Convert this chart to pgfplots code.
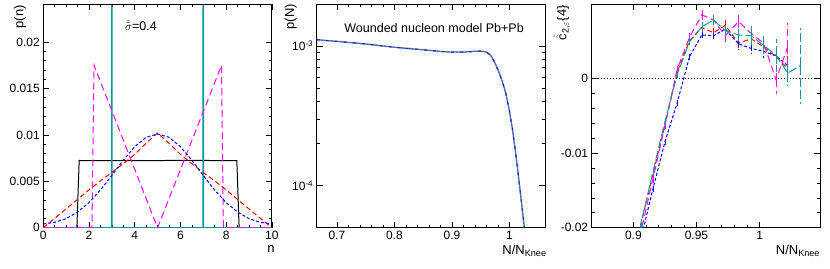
\documentclass[border=0pt]{standalone}
\usepackage{fontspec}
\setmainfont{Liberation Sans}
\usepackage{pgfplots}
\pgfplotsset{compat=1.18}
\definecolor{rred}{RGB}{255,0,0}
\definecolor{rblue}{RGB}{0,0,255}
\definecolor{rmag}{RGB}{255,0,255}
\definecolor{rteal}{RGB}{0,153,153}
\pgfplotsset{rootstyle/.style={
  scale only axis, width=228.5pt, height=223.7pt, anchor=south west,
  axis line style={line width=0.8pt},
  tick align=inside, major tick length=6pt, minor tick length=3pt,
  every tick/.style={black, line width=0.6pt},
  tick label style={font=\fontsize{12}{14}\selectfont},
  label style={font=\fontsize{13}{15}\selectfont, inner sep=0pt},
  /pgf/number format/assume math mode=true,
}}
\pgfplotstableread{
x y e
0.896 -0.0260 0.0006
0.906 -0.0195 0.0006
0.9155 -0.0128 0.0005
0.925 -0.0063 0.0005
0.9347 0.0009 0.0005
0.9445 0.0050 0.0005
0.9542 0.0068 0.0006
0.9635 0.0061 0.0006
0.9728 0.0071 0.0008
0.9833 0.0047 0.0008
0.9934 0.0053 0.0009
1.0032 0.0042 0.0010
1.013 0.0029 0.0012
1.0222 0.0013 0.0018
}\redtab
\pgfplotstableread{
x y e
0.896 -0.0280 0.0006
0.906 -0.0215 0.0006
0.9155 -0.0148 0.0005
0.925 -0.0085 0.0005
0.9347 -0.0033 0.0005
0.9445 0.0029 0.0005
0.9542 0.0058 0.0006
0.9635 0.0057 0.0006
0.9728 0.0066 0.0007
0.9833 0.0046 0.0007
0.9934 0.0040 0.0008
1.0032 0.0036 0.0009
1.013 0.0030 0.0010
1.0222 0.0017 0.0012
}\bluetab
\pgfplotstableread{
x y e
0.896 -0.0270 0.0006
0.906 -0.0205 0.0006
0.9155 -0.0135 0.0005
0.925 -0.0063 0.0005
0.9347 0.0012 0.0005
0.9445 0.0055 0.0005
0.9542 0.0085 0.0007
0.9635 0.0078 0.0007
0.9728 0.0057 0.0008
0.9833 0.0076 0.0009
0.9934 0.0060 0.0010
1.0032 0.0047 0.0012
1.013 -0.0002 0.0019
1.0222 0.0042 0.0032
}\magtab
\pgfplotstableread{
x y e
0.896 -0.0265 0.0006
0.906 -0.0195 0.0006
0.9155 -0.0125 0.0005
0.925 -0.0058 0.0005
0.9347 0.0005 0.0005
0.9445 0.0049 0.0005
0.9542 0.0069 0.0006
0.9635 0.0078 0.0006
0.9728 0.0064 0.0007
0.9833 0.0058 0.0008
0.9934 0.0057 0.0012
1.0032 0.0044 0.0014
1.013 0.0031 0.0022
1.0222 0.0007 0.0017
1.0323 0.0017 0.0051
}\tealtab
\pgfplotstableread{
x y
0.665 1.11e-3
0.70 1.08e-3
0.75 1.035e-3
0.80 0.98e-3
0.85 0.94e-3
0.88 0.915e-3
0.90 0.905e-3
0.92 0.905e-3
0.94 0.917e-3
0.95 0.920e-3
0.96 0.905e-3
0.967 0.86e-3
0.974 0.77e-3
0.981 0.66e-3
0.988 0.55e-3
0.994 0.45e-3
1.000 0.34e-3
1.005 0.255e-3
1.010 0.18e-3
1.015 0.122e-3
1.020 0.081e-3
1.026 0.049e-3
1.030 0.035e-3
}\pntab
\begin{document}
\begin{tikzpicture}
\path[use as bounding box] (0,0) rectangle (830pt,268pt);
% ---------------- panel 1
\begin{axis}[rootstyle, at={(43.3pt,40.3pt)},
  xmin=0, xmax=10, ymin=0, ymax=0.0241,
  xtick={0,2,4,6,8,10}, xticklabels={0,2,4,6,8,10}, minor x tick num=3,
  ytick={0,0.005,0.01,0.015,0.02}, yticklabels={0,0.005,0.01,0.015,0.02}, minor y tick num=4,
  xlabel={n}, ylabel={p(n)},
  xlabel style={at={(axis description cs:1.013,-0.077)}, anchor=north east},
  ylabel style={at={(axis description cs:-0.074,0.995)}, anchor=south east},
]
\addplot[black, line width=1pt] coordinates {(0,0) (1.47,0) (1.57,0.00724) (4,0.00722) (6,0.00725) (8.47,0.00723) (8.57,0) (10,0)};
\addplot[rteal, line width=1.5pt] coordinates {(0,0) (10,0)};
\addplot[rteal, line width=1.5pt] coordinates {(2.995,0) (3.0,0.024) (3.005,0)};
\addplot[rteal, line width=1.5pt] coordinates {(6.995,0) (7.0,0.024) (7.005,0)};
\addplot[rmag, line width=1pt, dash pattern=on 7pt off 4pt] coordinates {(0,0) (2.13,0) (2.22,0.0175) (5,0) (7.8,0.0175) (7.88,0) (10,0)};
\addplot[rred, line width=1pt, dash pattern=on 5pt off 3pt] coordinates {
(0,0) (0.5,0.00101) (1,0.00203) (1.5,0.00305) (2,0.00408) (2.5,0.00505) (3,0.00595) (3.5,0.00690) (4,0.00790) (4.5,0.00910) (5,0.01020)
(5.5,0.00910) (6,0.00790) (6.5,0.00690) (7,0.00595) (7.5,0.00505) (8,0.00408) (8.5,0.00305) (9,0.00203) (9.5,0.00101) (10,0)};
\addplot[rblue, line width=1pt, dash pattern=on 3pt off 2pt] coordinates {
(0,0.0004) (0.5,0.00058) (1,0.00098) (1.5,0.00169) (2,0.00271) (2.5,0.00405) (3,0.00563) (3.5,0.00727) (4,0.00873) (4.5,0.00974) (5,0.0101)
(5.5,0.00974) (6,0.00873) (6.5,0.00727) (7,0.00563) (7.5,0.00405) (8,0.00271) (8.5,0.00169) (9,0.00098) (9.5,0.00058) (10,0.0004)};
\node[anchor=base west, inner sep=0pt, font=\fontsize{12.5}{15}\selectfont] at (axis cs:3.57,0.0212) {$\hat{\tilde{\sigma}}$=0.4};
\end{axis}
% ---------------- panel 2
\begin{axis}[rootstyle, at={(316.7pt,40.3pt)}, ymode=log,
  xmin=0.665, xmax=1.062, ymin=5e-5, ymax=2e-3,
  xtick={0.7,0.8,0.9,1}, xticklabels={0.7,0.8,0.9,1}, minor x tick num=4,
  ytick={1e-4,1e-3}, yticklabels={10\textsuperscript{-4},10\textsuperscript{-3}},
  xlabel={N/N\textsubscript{Knee}}, ylabel={p(N)},
  xlabel style={at={(axis description cs:1.007,-0.076)}, anchor=north east},
  ylabel style={at={(axis description cs:-0.086,1.0)}, anchor=south east},
]
\addplot[rteal, line width=1.3pt] table[x=x,y=y] {\pntab};
\addplot[rblue, line width=1pt, dash pattern=on 3pt off 6pt] table[x=x,y=y] {\pntab};
\addplot[rmag, line width=1pt, dash pattern=on 2pt off 7pt, dash phase=4pt] table[x=x,y=y] {\pntab};
\addplot[rred, line width=1pt, dash pattern=on 1pt off 8pt, dash phase=7pt] table[x=x,y=y] {\pntab};
\node[anchor=base, inner sep=0pt, font=\fontsize{12.5}{15}\selectfont] at (axis cs:0.869,1.247e-3) {Wounded nucleon model Pb+Pb};
\end{axis}
% ---------------- panel 3
\begin{axis}[rootstyle, at={(591.7pt,40.3pt)},
  xmin=0.867, xmax=1.048, ymin=-0.02, ymax=0.00995,
  xtick={0.9,0.95,1}, xticklabels={0.9,0.95,1}, minor x tick num=4,
  ytick={-0.02,-0.01,0}, yticklabels={-0.02,-0.01,0}, minor y tick num=4,
  xlabel={N/N\textsubscript{Knee}}, ylabel={$\hat{\tilde{\mbox{c}}}$\textsubscript{2,$\varepsilon$}\{4\}},
  xlabel style={at={(axis description cs:1.0,-0.076)}, anchor=north east},
  ylabel style={at={(axis description cs:-0.095,0.995)}, anchor=south east},
]
\addplot[black, line width=1pt, dotted] coordinates {(0.867,0) (1.048,0)};
\addplot[rred, line width=1pt, dash pattern=on 5pt off 3pt, error bars/.cd, y dir=both, y explicit, error mark=none] table[x=x,y=y,y error=e] {\redtab};
\addplot[rblue, line width=1pt, dash pattern=on 3pt off 2pt, error bars/.cd, y dir=both, y explicit, error mark=none] table[x=x,y=y,y error=e] {\bluetab};
\addplot[rmag, line width=1pt, dash pattern=on 7pt off 4pt, error bars/.cd, y dir=both, y explicit, error mark=none] table[x=x,y=y,y error=e] {\magtab};
\addplot[rteal, line width=1pt, dash pattern=on 9pt off 3pt, error bars/.cd, y dir=both, y explicit, error mark=none] table[x=x,y=y,y error=e] {\tealtab};
\end{axis}
\end{tikzpicture}
\end{document}
